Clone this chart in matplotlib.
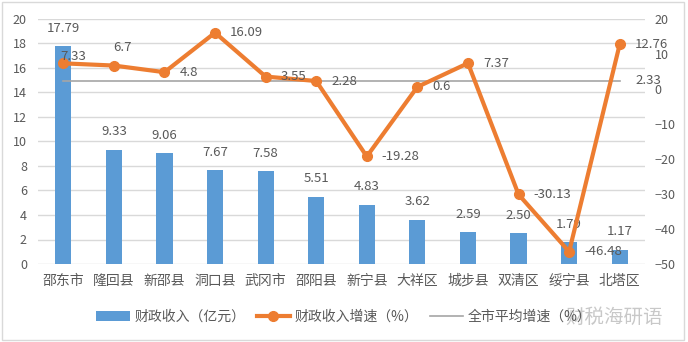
import matplotlib
matplotlib.use("Agg")
import matplotlib.pyplot as plt
from matplotlib.patches import Rectangle, Patch
from matplotlib.lines import Line2D

plt.rcParams['font.family'] = ['Noto Sans CJK SC', 'DejaVu Sans']

categories = ["邵东市", "隆回县", "新邵县", "洞口县", "武冈市", "邵阳县",
              "新宁县", "大祥区", "城步县", "双清区", "绥宁县", "北塔区"]
revenue = [17.79, 9.33, 9.06, 7.67, 7.58, 5.51, 4.83, 3.62, 2.59, 2.50, 1.79, 1.17]
growth = [7.33, 6.7, 4.8, 16.09, 3.55, 2.28, -19.28, 0.6, 7.37, -30.13, -46.48, 12.76]
avg_growth = 2.33
left_ticks = [0, 2, 4, 6, 8, 10, 12, 14, 16, 18, 20]
right_ticks = [-50, -40, -30, -20, -10, 0, 10, 20]

BLUE = "#5B9BD5"
ORANGE = "#ED7D31"
GRAY_LINE = "#A5A5A5"
GRID = "#D9D9D9"
TEXT = "#595959"

fig = plt.figure(figsize=(6.88, 3.42), dpi=100)
ax = fig.add_axes([38/688, 1-264/342, (645-38)/688, (264-19)/342])
ax2 = ax.twinx()

x = list(range(len(categories)))
ax.bar(x, revenue, width=0.32, color=BLUE, zorder=2)
ax.set_ylim(0, 20)
ax.set_xlim(-0.5, len(categories) - 0.5)
ax.set_yticks(left_ticks)
ax.set_xticks(x)
ax.set_xticklabels(categories, fontsize=10, color=TEXT)
ax.grid(axis='y', color=GRID, linewidth=1, zorder=0)
ax.set_axisbelow(True)
ax.tick_params(axis='y', length=0, pad=8, labelsize=9, labelcolor=TEXT)
ax.tick_params(axis='x', length=0, pad=7)
for s in ax.spines.values():
    s.set_visible(False)

for xi, v in zip(x, revenue):
    ax.annotate(f"{v:.2f}", (xi, v), xytext=(0, 18), textcoords='offset pixels',
                ha='center', va='center', fontsize=9.5, color=TEXT)

ax2.set_ylim(-50, 20)
ax2.set_yticks(right_ticks)
ax2.tick_params(axis='y', length=0, pad=7, labelsize=9, labelcolor=TEXT)
for s in ax2.spines.values():
    s.set_visible(False)

ax2.plot([x[0], x[-1]], [avg_growth, avg_growth], color=GRAY_LINE, linewidth=1.2, zorder=2)
ax2.annotate(f"{avg_growth:g}", (x[-1], avg_growth), xytext=(16, 0), textcoords='offset pixels',
             ha='left', va='center', fontsize=9.5, color=TEXT)
ax2.plot(x, growth, color=ORANGE, linewidth=3, marker='o', markersize=7, zorder=3)

offsets = {0: (-3, 7), 1: (-1, 18)}
for xi, v in zip(x, growth):
    dx, dy = offsets.get(xi, (15, 0))
    ax2.annotate(f"{v:g}", (xi, v), xytext=(dx, dy), textcoords='offset pixels',
                 ha='left', va='center', fontsize=9.5, color=TEXT, zorder=4)

handles = [Patch(facecolor=BLUE, edgecolor='none'),
           Line2D([], [], color=ORANGE, linewidth=3, marker='o', markersize=7),
           Line2D([], [], color=GRAY_LINE, linewidth=1.2)]
labels = ["财政收入（亿元）", "财政收入增速（%）", "全市平均增速（%）"]
leg = fig.legend(handles, labels, loc='center', bbox_to_anchor=(0.5, 1-317/342), ncol=3,
                 frameon=False, fontsize=10, handlelength=2.4, handletextpad=0.35,
                 columnspacing=0.8)
for t in leg.get_texts():
    t.set_color(TEXT)

fig.text(565/688, 1-317/342, "财税海研语", fontsize=14, color="#BBBBBB", alpha=0.8,
         ha='left', va='center')

fig.patches.append(Rectangle((2/688, 2/342), 682/688, 338/342, transform=fig.transFigure,
                             fill=False, edgecolor=GRID, linewidth=1))

fig.savefig("out.png", dpi=100)
